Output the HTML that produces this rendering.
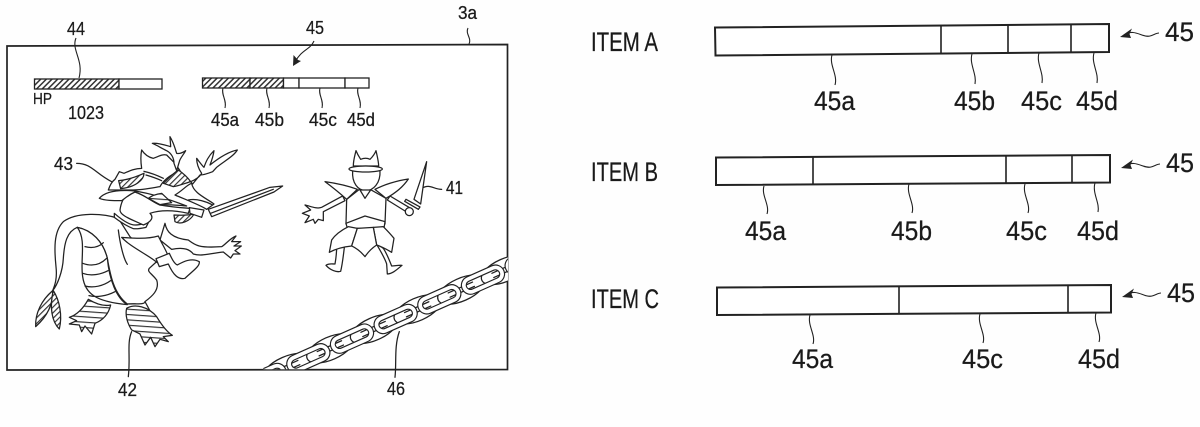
<!DOCTYPE html>
<html><head><meta charset="utf-8"><style>
html,body{margin:0;padding:0;background:#fff}
svg{display:block}
text{font-family:"Liberation Sans",sans-serif;fill:#1a1a1a;stroke:#1a1a1a;stroke-width:.25}
.b{fill:#fff;stroke:#222;stroke-width:2}
.l{fill:none;stroke:#222;stroke-width:1.1}
.d{fill:none;stroke:#222;stroke-width:1.6}
.s{font-size:18px}.m{font-size:26.5px}
.z path,.z rect,.z ellipse,.z circle{stroke:#222;stroke-width:3.8;fill:#fff;stroke-linejoin:round;stroke-linecap:round}
.z .n{fill:none}
.z .h{fill:url(#hz)}
.z .v{fill:url(#hv)}
.z .to{fill:none;stroke:#222;stroke-width:18}
.z .ti{fill:none;stroke:#fff;stroke-width:11}
</style></head><body>
<svg width="1200" height="427" viewBox="0 0 1200 427" xmlns="http://www.w3.org/2000/svg">
<defs>
<pattern id="hb" width="4" height="4" patternUnits="userSpaceOnUse" patternTransform="rotate(-45)"><rect width="4" height="4" fill="#fff"/><rect width="4" height="1.5" fill="#333"/></pattern>
<pattern id="hv" width="12" height="12" patternUnits="userSpaceOnUse" patternTransform="rotate(-45)"><rect width="12" height="12" fill="#fff" style="stroke:none"/><rect width="12" height="3.500" fill="#333" style="stroke:none"/></pattern>
<pattern id="hz" width="16" height="16" patternUnits="userSpaceOnUse" patternTransform="rotate(4)"><rect width="16" height="16" fill="#fff" style="stroke:none"/><rect width="16" height="3.500" fill="#333" style="stroke:none"/></pattern>
<clipPath id="cb"><path d="M-20 0H714V718H-20Z"/></clipPath>
</defs>
<rect width="1200" height="427" fill="#fefefe"/>

<path d="M7 46L507.500 44.500V369.500L7 370Z" fill="#fff" stroke="#222" stroke-width="1.7"/>

<rect x="34.500" y="79" width="84.500" height="10" fill="url(#hb)" stroke="#222" stroke-width="1.3"/>
<rect x="119" y="79" width="43" height="10" fill="#fff" stroke="#222" stroke-width="1.3"/>
<rect x="202.500" y="78" width="47.500" height="10" fill="url(#hb)" stroke="#222" stroke-width="1.3"/>
<rect x="250" y="78" width="33.500" height="10" fill="url(#hb)" stroke="#222" stroke-width="1.3"/>
<rect x="283.500" y="78" width="15.500" height="10" fill="#fff" stroke="#222" stroke-width="1.3"/>
<rect x="299" y="78" width="46" height="10" fill="#fff" stroke="#222" stroke-width="1.3"/>
<rect x="345" y="78" width="24" height="10" fill="#fff" stroke="#222" stroke-width="1.3"/>

<path class="l" d="M76 38C71 50 84 60 79 78"/>
<path class="l" d="M314 41C310 50 302 49 295 62"/>
<path d="M293 66L293.500 55L298 60L301 61Z" fill="#222"/>
<path class="l" d="M468 28C465 34 472 38 469 44"/>
<path class="l" d="M223 88C221 95 227 100 225 108"/>
<path class="l" d="M267 88C265 95 271 100 269 108"/>
<path class="l" d="M320 88C318 95 324 100 322 108"/>
<path class="l" d="M358 88C356 95 362 100 360 108"/>

<text class="s" x="67" y="35" textLength="18" lengthAdjust="spacingAndGlyphs">44</text>
<text class="s" x="306" y="34" textLength="18" lengthAdjust="spacingAndGlyphs">45</text>
<text class="s" x="458" y="19" textLength="19" lengthAdjust="spacingAndGlyphs">3a</text>
<text x="33" y="104" font-size="15.500" textLength="19" lengthAdjust="spacingAndGlyphs">HP</text>
<text class="s" x="68" y="119" textLength="36" lengthAdjust="spacingAndGlyphs">1023</text>
<text class="s" x="211" y="126" textLength="28" lengthAdjust="spacingAndGlyphs">45a</text>
<text class="s" x="255" y="126" textLength="29" lengthAdjust="spacingAndGlyphs">45b</text>
<text class="s" x="309" y="126" textLength="28" lengthAdjust="spacingAndGlyphs">45c</text>
<text class="s" x="347" y="126" textLength="28" lengthAdjust="spacingAndGlyphs">45d</text>
<text class="s" x="54" y="170" textLength="19" lengthAdjust="spacingAndGlyphs">43</text>
<text class="s" x="118" y="396" textLength="19" lengthAdjust="spacingAndGlyphs">42</text>
<text class="s" x="446" y="194" textLength="17" lengthAdjust="spacingAndGlyphs">41</text>
<text class="s" x="387" y="395" textLength="18" lengthAdjust="spacingAndGlyphs">46</text>

<!-- Dragon and rider -->
<g class="z" transform="translate(20 130) scale(.3333)">
<path class="n" d="M170 100C215 100 225 130 275 155"/>
<path class="n" d="M335 605C320 640 332 680 325 740"/>
<path d="M295 265C250 250 170 245 130 275C100 305 103 360 108 410C112 445 105 465 98 482C112 465 128 425 130 385C133 340 140 305 172 292C215 300 250 335 262 385C270 430 280 490 322 522C345 520 375 525 375 515C395 500 420 480 410 450C395 430 380 425 388 415L410 395L330 320Z"/>
<path d="M172 292C200 330 180 390 188 440C195 490 225 515 322 524C290 505 268 450 262 385C250 335 215 300 172 292Z"/>
<path class="n" d="M195 350C215 355 235 352 250 338M188 400C215 410 240 405 260 385M188 430C215 440 245 432 264 422M195 468C220 475 250 468 272 452M207 497C230 503 260 498 285 485"/>
<path class="n" d="M295 300C300 340 310 385 322 403"/>
<path class="v" d="M98 482C65 510 45 550 47 590C75 565 100 530 98 482Z"/>
<path class="v" d="M100 482C88 530 95 575 118 597C128 555 118 510 100 482Z"/>
<path class="h" d="M205 508C190 535 170 555 148 562L170 572L148 582L178 585L185 605L195 588L215 612L225 580C245 572 265 555 272 525C250 530 225 520 205 508Z"/>
<path class="n" d="M375 515C395 550 410 590 450 612"/>
<path class="h" d="M320 535C345 520 385 530 410 560C425 585 440 605 457 616L430 620L445 635L420 628L405 650L392 622L375 645L360 612L335 600C322 580 315 555 320 535Z"/>
<path d="M435 280C440 305 455 325 505 330C525 345 535 355 605 350C615 345 630 325 648 318L635 335L662 335L642 348L664 348L645 362L660 372L640 372L632 384L610 366C570 370 545 380 520 372C510 360 495 350 455 358L420 330Z"/>
<path d="M305 322C340 325 380 328 415 318C425 340 435 355 442 372L412 398C385 375 330 350 305 322Z"/>
<path d="M408 386L448 370C455 385 462 400 472 405C490 395 515 382 538 395C540 410 515 425 495 445C475 450 460 435 445 402L418 410Z"/>
<path d="M283 250C300 265 325 285 345 285C360 285 375 280 385 278L378 292C360 296 350 297 340 296C320 288 300 275 283 262Z"/>
<path d="M300 240C305 205 320 188 345 186C375 195 395 215 420 225C460 232 480 233 510 235L505 250C460 240 420 240 390 250C402 262 395 275 370 285C340 270 300 258 300 240Z"/>
<path d="M238 205C255 185 290 178 345 183C390 190 440 205 500 228C470 226 440 222 420 225C395 215 375 195 345 186C325 195 315 205 305 212C280 212 255 212 238 205Z"/>
<path class="h" d="M385 205C395 197 410 192 425 190L455 218L420 224Z"/>
<path d="M465 195C490 180 500 165 515 160C520 190 560 205 582 222L560 238C540 225 500 210 465 195Z"/>
<path class="v" d="M462 255C480 256 505 256 522 252C510 275 480 285 465 275Z"/>
<path class="n" d="M505 210C530 205 560 215 578 225"/>
<path d="M265 180C270 165 275 155 285 148L298 125L312 130C330 122 345 115 365 115C362 95 362 75 365 60C375 75 385 82 400 85C415 80 425 72 440 75L465 100L480 122C450 135 430 150 420 170C390 175 365 180 340 180Z"/>
<path class="v" d="M296 152C320 150 350 140 372 130C372 150 345 172 302 176Z"/>
<path class="n" d="M372 124C390 128 410 135 430 145M378 135C395 140 410 145 425 152"/>
<path class="v" d="M430 160C445 145 460 130 475 120C490 130 505 145 512 155C495 160 475 168 460 170Z"/>
<path d="M450 20C462 40 465 55 470 70C478 72 488 68 497 62C490 75 480 85 478 95L470 122L462 100C462 85 455 70 440 62C425 55 410 45 397 40C415 38 435 45 452 50C452 40 450 30 450 20Z"/>
<path d="M512 155C525 150 540 140 545 130C535 115 530 100 530 85C538 95 545 105 552 112C558 95 565 78 582 62C580 78 575 92 570 105C595 85 625 65 652 60C640 80 610 95 590 112L578 125C565 130 550 135 540 135L518 162Z"/>
<path d="M565 238L750 172L788 168L762 186L575 260Z"/>
<path class="n" d="M572 250L760 178"/>
<path d="M508 233L552 240L545 262L510 250Z"/>
</g>

<!-- Warrior and chain -->
<g class="z" transform="translate(270 130) scale(.3333)">
<path class="n" d="M455 175C480 160 490 178 515 178"/>
<g clip-path="url(#cb)">
<g transform="rotate(-24 -81 773)"><ellipse cx="-81" cy="773" rx="76" ry="34"/><path class="n" d="M-121 766H-41M-121 780H-41"/></g>
<g transform="rotate(-24 50 714)"><ellipse cx="50" cy="714" rx="76" ry="34"/><path class="n" d="M10 707H90M10 721H90"/></g>
<g transform="rotate(-24 181 655)"><ellipse cx="181" cy="655" rx="76" ry="34"/><path class="n" d="M141 648H221M141 662H221"/></g>
<g transform="rotate(-24 312 597)"><ellipse cx="312" cy="597" rx="76" ry="34"/><path class="n" d="M272 590H352M272 604H352"/></g>
<g transform="rotate(-24 443 538)"><ellipse cx="443" cy="538" rx="76" ry="34"/><path class="n" d="M403 531H483M403 545H483"/></g>
<g transform="rotate(-24 574 479)"><ellipse cx="574" cy="479" rx="76" ry="34"/><path class="n" d="M534 472H614M534 486H614"/></g>
<g transform="rotate(-24 705 420)"><ellipse cx="705" cy="420" rx="76" ry="34"/><path class="n" d="M665 413H745M665 427H745"/></g>
<g transform="rotate(-24 -16 744)"><rect class="to" x="-77" y="724" width="122" height="40" rx="20"/><rect class="ti" x="-77" y="724" width="122" height="40" rx="20"/></g>
<g transform="rotate(-24 115 685)"><rect class="to" x="54" y="665" width="122" height="40" rx="20"/><rect class="ti" x="54" y="665" width="122" height="40" rx="20"/></g>
<g transform="rotate(-24 246 626)"><rect class="to" x="185" y="606" width="122" height="40" rx="20"/><rect class="ti" x="185" y="606" width="122" height="40" rx="20"/></g>
<g transform="rotate(-24 377 567)"><rect class="to" x="316" y="547" width="122" height="40" rx="20"/><rect class="ti" x="316" y="547" width="122" height="40" rx="20"/></g>
<g transform="rotate(-24 508 508)"><rect class="to" x="447" y="488" width="122" height="40" rx="20"/><rect class="ti" x="447" y="488" width="122" height="40" rx="20"/></g>
<g transform="rotate(-24 639 449)"><rect class="to" x="578" y="429" width="122" height="40" rx="20"/><rect class="ti" x="578" y="429" width="122" height="40" rx="20"/></g>
<g transform="rotate(-24 770 390)"><rect class="to" x="709" y="370" width="122" height="40" rx="20"/><rect class="ti" x="709" y="370" width="122" height="40" rx="20"/></g>
</g>
<path class="n" d="M388 605C372 650 380 700 375 742"/>
<path d="M218 198L155 232C140 238 120 228 105 225L122 240L97 250L118 258L105 278L130 268L135 280L145 268L160 272L160 245L225 212Z"/>
<path d="M360 198L422 235L410 246L352 210Z"/>
<path d="M432 208L470 95L452 222Z"/>
<path d="M408 208L450 231L445 238L404 214Z"/>
<circle cx="418" cy="245" r="12"/>
<path d="M200 350C200 370 198 385 195 402C185 402 175 400 168 406C180 420 200 428 212 424C218 400 220 375 224 345Z"/>
<path d="M318 340C330 360 345 385 350 402L352 432C368 432 385 415 396 406C385 405 375 408 365 408C358 390 350 370 340 355Z"/>
<path d="M230 208L228 282H345L348 205L300 178H268Z"/>
<path d="M228 280L285 258L345 275L342 295H232Z"/>
<path d="M235 290C215 300 195 315 185 330L178 367C200 355 225 350 245 348L262 295Z"/>
<path d="M310 292L320 345C335 350 350 358 365 367L372 325C360 310 350 300 340 290Z"/>
<path d="M262 295L245 348C260 355 275 368 285 380C295 365 305 355 320 345L310 292Z"/>
<path d="M165 155C200 160 240 170 262 178L230 208C210 190 185 170 165 155Z"/>
<path d="M415 147C380 152 340 165 315 178L348 205C375 190 400 170 415 147Z"/>
<path d="M250 108C250 90 255 75 258 62C262 72 268 82 272 88C282 84 292 84 300 88C308 80 315 70 318 62C322 80 326 95 326 108Z"/>
<path d="M248 122C245 160 265 182 287 182C310 182 332 160 330 122Z"/>
<path d="M270 180L285 205L302 180Z"/>
<ellipse cx="287" cy="117" rx="50" ry="9"/>
</g>

<!-- ITEM A -->
<text class="m" x="591" y="51" textLength="67" lengthAdjust="spacingAndGlyphs">ITEM A</text>
<path class="b" d="M715 27.500L1109 24V52L715.500 55.500Z"/>
<path class="d" d="M941 26V54M1008 25.500V53M1071 25V52.500"/>
<path class="l" d="M832 55C829 65 838 75 835 85"/>
<path class="l" d="M972 54C969 64 977 74 975 84"/>
<path class="l" d="M1039 53C1036 63 1044 73 1042 83"/>
<path class="l" d="M1094 53C1091 63 1099 73 1097 83"/>
<text class="m" x="814" y="110" textLength="41" lengthAdjust="spacingAndGlyphs">45a</text>
<text class="m" x="954" y="110" textLength="41" lengthAdjust="spacingAndGlyphs">45b</text>
<text class="m" x="1021" y="110" textLength="41" lengthAdjust="spacingAndGlyphs">45c</text>
<text class="m" x="1076" y="110" textLength="42" lengthAdjust="spacingAndGlyphs">45d</text>
<text class="m" x="1165" y="41" textLength="29" lengthAdjust="spacingAndGlyphs">45</text>
<path class="l" d="M1124 35C1135 28 1142 38 1150 36C1154 35 1156 33 1159 33"/>
<path d="M1120 37L1132 28.500L1129.500 34L1131 38Z" fill="#222"/>

<!-- ITEM B -->
<text class="m" x="591" y="181" textLength="67" lengthAdjust="spacingAndGlyphs">ITEM B</text>
<path class="b" d="M716 157.500L1110 155V182.500L716 185Z"/>
<path class="d" d="M813 157V184.500M1006 156V183M1072 155V182.500"/>
<path class="l" d="M764 186C761 195 770 205 767 214"/>
<path class="l" d="M909 184C906 194 915 204 912 213"/>
<path class="l" d="M1025 184C1022 194 1031 204 1028 213"/>
<path class="l" d="M1095 183C1092 193 1100 203 1098 212"/>
<text class="m" x="745" y="240" textLength="41" lengthAdjust="spacingAndGlyphs">45a</text>
<text class="m" x="891" y="240" textLength="41" lengthAdjust="spacingAndGlyphs">45b</text>
<text class="m" x="1006" y="240" textLength="41" lengthAdjust="spacingAndGlyphs">45c</text>
<text class="m" x="1077" y="240" textLength="42" lengthAdjust="spacingAndGlyphs">45d</text>
<text class="m" x="1166" y="172" textLength="28" lengthAdjust="spacingAndGlyphs">45</text>
<path class="l" d="M1125 166C1136 159 1143 169 1151 167C1155 166 1157 164 1160 164"/>
<path d="M1121 168L1133 159.500L1130.500 165L1132 169Z" fill="#222"/>

<!-- ITEM C -->
<text class="m" x="591" y="308" textLength="68" lengthAdjust="spacingAndGlyphs">ITEM C</text>
<path class="b" d="M717 287.500L1111 285V312.500L717 315Z"/>
<path class="d" d="M899 286.500V314M1068 285.500V313"/>
<path class="l" d="M810 315C807 325 816 335 813 344"/>
<path class="l" d="M980 314C977 324 986 334 983 343"/>
<path class="l" d="M1096 313C1093 323 1102 333 1099 342"/>
<text class="m" x="792" y="368" textLength="41" lengthAdjust="spacingAndGlyphs">45a</text>
<text class="m" x="962" y="368" textLength="41" lengthAdjust="spacingAndGlyphs">45c</text>
<text class="m" x="1078" y="368" textLength="42" lengthAdjust="spacingAndGlyphs">45d</text>
<text class="m" x="1167" y="302" textLength="28" lengthAdjust="spacingAndGlyphs">45</text>
<path class="l" d="M1126 295C1137 288 1144 298 1152 296C1156 295 1158 293 1161 293"/>
<path d="M1122 297L1134 288.500L1131.500 294L1133 298Z" fill="#222"/>
</svg>
</body></html>
